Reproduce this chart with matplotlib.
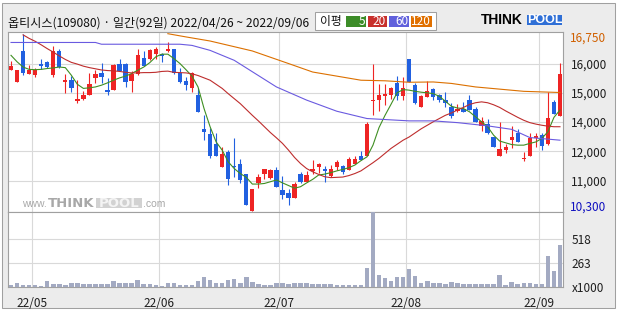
import numpy as np
import matplotlib.pyplot as plt
from matplotlib.patches import Rectangle

plt.rcParams['font.family'] = ['Noto Sans CJK KR', 'DejaVu Sans']

W, H = 620, 310

# 일봉 데이터 (92 거래일, 2022/04/26 ~ 2022/09/06)
opens = [15790, 15370, 16420, 15630, 15610, 16000, 16060, 15600, 16430, 15370,
         15430, 14710, 14780, 14940, 15510, 15680, 15110, 15110, 15990, 15990,
         15410, 15630, 16200, 16160, 16340, 16340, 16420, 16490, 15680, 15400,
         15180, 14920, 13750, 13590, 13240, 12470, 12970, 12500, 12550, 12240,
         10970, 11900, 12220, 12080, 12360, 11670, 11570, 11410, 12240, 11960,
         12310, 12470, 12400, 12160, 12450, 12490, 12360, 12560, 12850, 12850,
         14710, 14750, 14890, 14920, 15320, 14890, 16150, 15280, 14520, 14860,
         15120, 14920, 14770, 14500, 14380, 14440, 14750, 14440, 13860, 13930,
         13490, 12850, 13060, 13380, 13640, 12720, 12850, 13450, 13570, 13240,
         14690, 14210]
highs = [16080, 15790, 17000, 15940, 15860, 16150, 16080, 16600, 16480, 15630,
         15570, 15430, 15060, 15680, 15790, 16030, 15520, 16000, 16170, 16020,
         15750, 16490, 16430, 16490, 16570, 16360, 16720, 16490, 15860, 15540,
         15710, 15180, 14230, 13780, 13630, 13130, 13060, 13470, 12720, 12240,
         11710, 12240, 12380, 12380, 12450, 12170, 11700, 11950, 12300, 12310,
         12700, 12610, 12490, 12530, 12700, 12530, 12790, 12830, 13020, 14010,
         15980, 15290, 15290, 15200, 15580, 15540, 16150, 15320, 14920, 15400,
         15180, 14970, 15030, 14660, 14630, 14690, 14920, 14500, 14180, 14090,
         13490, 14010, 13240, 13860, 13760, 12960, 13630, 13640, 13610, 15010,
         14750, 16030]
lows = [15780, 15370, 15600, 15630, 15540, 15830, 15850, 15540, 15860, 15000,
        15030, 14660, 14750, 14940, 15320, 15340, 14940, 15090, 15740, 15200,
        15030, 15600, 15910, 16110, 16170, 16060, 16400, 15630, 15350, 15090,
        15030, 14350, 13380, 12760, 12850, 12450, 11840, 12130, 11920, 11160,
        10970, 11730, 12050, 12040, 11790, 11360, 11160, 11410, 11920, 11940,
        12220, 12270, 11960, 12130, 12360, 12210, 12360, 12550, 12700, 12850,
        14230, 14380, 14580, 14800, 14750, 14750, 15370, 14630, 14500, 14860,
        14750, 14690, 14500, 14140, 14350, 14340, 14410, 14010, 13700, 13590,
        13130, 12850, 12950, 13100, 13320, 12680, 12850, 13130, 13060, 13210,
        14260, 14210]
closes = [15910, 15790, 15660, 15790, 15790, 15920, 15880, 16430, 15880, 15450,
          15180, 14780, 14920, 15290, 15630, 15540, 15030, 15940, 15760, 15370,
          15630, 16280, 15920, 16450, 16490, 16260, 16490, 15660, 15370, 15260,
          15690, 14350, 13670, 12830, 12850, 12900, 12050, 12450, 12020, 11160,
          11710, 12130, 12380, 12360, 11790, 11510, 11410, 11880, 11950, 12190,
          12380, 12580, 12330, 12380, 12630, 12300, 12730, 12730, 12700, 13930,
          14750, 14920, 14950, 15150, 14890, 15180, 15370, 14660, 14890, 15050,
          14860, 14750, 14660, 14200, 14440, 14350, 14410, 14010, 14030, 13610,
          13130, 13070, 13150, 13490, 13320, 12780, 13470, 13520, 13180, 14150,
          14260, 15630]
volumes = [25, 40, 25, 22, 22, 14, 65, 36, 32, 25,
           43, 43, 36, 36, 36, 36, 36, 65, 43, 47,
           47, 76, 32, 29, 22, 14, 43, 43, 25, 25,
           25, 65, 108, 79, 43, 43, 72, 87, 43, 108,
           54, 29, 25, 25, 40, 40, 29, 43, 43, 43,
           29, 29, 32, 32, 25, 25, 25, 25, 25, 209,
           900, 130, 94, 69, 112, 112, 199, 119, 47, 65,
           47, 47, 36, 54, 43, 29, 36, 36, 36, 36,
           36, 130, 22, 58, 36, 47, 47, 36, 36, 339,
           173, 455]

# 이동평균선
ma5 = [16280, 16060, 15880, 15800, 15790, 15800, 15830, 15850, 15880, 15860,
       15600, 15290, 15150, 15170, 15200, 15260, 15340, 15430, 15510, 15570,
       15660, 15770, 15880, 16030, 16230, 16320, 16320, 16170, 16000, 15790,
       15570, 15200, 14460, 13840, 13320, 13040, 12640, 12410, 12240, 12110,
       11880, 11880, 11900, 11960, 12020, 11920, 11830, 11740, 11790, 11920,
       12040, 12190, 12220, 12270, 12330, 12380, 12440, 12530, 12680, 12810,
       13210, 13810, 14230, 14610, 15000, 15110, 15090, 15050, 15020, 15000,
       14970, 14880, 14710, 14540, 14480, 14460, 14350, 14180, 14010, 13840,
       13550, 13350, 13290, 13230, 13210, 13210, 13270, 13320, 13440, 13670,
       14160, 14410]
ma20_start = 2
ma20 = [16980, 16860, 16760, 16640, 16510, 16390, 16260, 16140, 16040, 15980,
        15910, 15860, 15820, 15780, 15760, 15750, 15730, 15700, 15680, 15680,
        15690, 15690, 15700, 15730, 15740, 15700, 15690, 15680, 15650, 15590,
        15510, 15430, 15290, 15150, 14970, 14800, 14630, 14430, 14230, 14040,
        13840, 13640, 13460, 13270, 13040, 12790, 12580, 12410, 12300, 12210,
        12130, 12100, 12110, 12120, 12170, 12240, 12330, 12470, 12610, 12760,
        12930, 13100, 13240, 13380, 13490, 13630, 13770, 13890, 14010, 14120,
        14230, 14310, 14410, 14500, 14600, 14660, 14690, 14660, 14590, 14500,
        14380, 14270, 14160, 14060, 13980, 13930, 13890, 13860, 13840, 13840]
ma60_x = [0, 14, 15, 28, 30, 33, 37, 44, 49, 54, 59, 66, 70, 74, 79, 83, 86, 91]
ma60 = [16720, 16720, 16660, 16660, 16620, 16450, 16110, 15200, 14750, 14370,
        14120, 14040, 14040, 13980, 13870, 13750, 13470, 13380]
ma120_x = [26, 29, 33, 40, 46, 50, 58, 62, 66, 70, 73, 77, 85, 91]
ma120 = [17020, 16910, 16770, 16430, 16000, 15710, 15430, 15410, 15360, 15370,
         15320, 15200, 15050, 15010]

month_starts = [4, 25, 45, 66, 88]
month_labels = ['22/05', '22/06', '22/07', '22/08', '22/09']
price_grid = [16000, 15000, 14000, 13000, 12000]
price_labels = ['16,000', '15,000', '14,000', '12,000', '11,000']
price_hi_label = '16,750'
price_lo_label = '10,300'
vol_grid = [0, 263, 518]
vol_labels = ['x1000', '263', '518']

title = '옵티시스(109080) · 일간(92일) 2022/04/26 ~ 2022/09/06'

RED = '#ee2424'
BLUE = '#2160e0'
VOL = '#a3aac2'
GRID = '#d9d9d9'
EDGE = '#a0a0a0'
TXT = '#1e1e1e'


def fx(px):
    return px / W


def fy(py):
    return 1 - py / H


fig = plt.figure(figsize=(W / 100, H / 100), dpi=100)
fig.patch.set_facecolor('white')
fig.add_artist(Rectangle((fx(2), fy(308)), 613 / W, 305 / H, transform=fig.transFigure,
                         fc='#ececec', ec=EDGE, lw=0.75, zorder=0))

ax = fig.add_axes([fx(8), fy(212), 555 / W, 180 / H])
axv = fig.add_axes([fx(8), fy(287), 555 / W, 75 / H])

x = np.arange(len(closes))
o = np.array(opens)
c = np.array(closes)
cols = np.where(c >= o, RED, BLUE)

# 캔들
ax.vlines(x, lows, highs, colors=cols, lw=0.8, zorder=3)
ax.bar(x, np.maximum(np.abs(c - o), 35), 0.72, np.minimum(o, c), color=cols, lw=0, zorder=3)

# 이평선
ax.plot(x, ma5, color='#3f8f22', lw=0.8, zorder=4)
ax.plot(np.arange(ma20_start, ma20_start + len(ma20)), ma20, color='#be2d2d', lw=0.8, zorder=4)
ax.plot(ma60_x, ma60, color='#6a5ae0', lw=0.8, zorder=4)
ax.plot(ma120_x, ma120, color='#dc7000', lw=0.8, zorder=4)

ax.set_xlim(-0.5, len(closes) - 0.5)
ax.set_ylim(10925, 17078)
ax.set_xticks([m - 0.5 for m in month_starts])
ax.set_yticks(price_grid)
ax.set_yticklabels(price_labels)
ax.yaxis.tick_right()
ax.tick_params(axis='y', length=0, pad=6, labelsize=8.5, labelcolor=TXT)
ax.tick_params(axis='x', length=0, labelbottom=False)
ax.grid(True, color=GRID, lw=0.8, zorder=0)
ax.text(1.013, 0.965, price_hi_label, transform=ax.transAxes, color='#d06000',
        fontsize=8.5, va='center', ha='left')
ax.text(1.013, 0.028, price_lo_label, transform=ax.transAxes, color='#1010c0',
        fontsize=8.5, va='center', ha='left')

# 거래량
axv.bar(x, volumes, 0.75, color=VOL, lw=0, zorder=3)
axv.set_xlim(-0.5, len(closes) - 0.5)
axv.set_ylim(0, 812)
axv.set_xticks([m - 0.5 for m in month_starts])
axv.set_xticklabels(month_labels)
axv.set_yticks(vol_grid)
axv.set_yticklabels(vol_labels)
axv.yaxis.tick_right()
axv.tick_params(axis='y', length=0, pad=6, labelsize=8.5, labelcolor=TXT)
axv.tick_params(axis='x', length=0, pad=7, labelsize=8.5, labelcolor=TXT)
axv.grid(True, color=GRID, lw=0.8, zorder=0)

for a in (ax, axv):
    a.set_facecolor('white')
    for s in a.spines.values():
        s.set_color(EDGE)
        s.set_linewidth(0.8)

# 제목
fig.text(fx(8), fy(23), title, fontsize=8.7, va='center', ha='left', color='#111111')

# 범례 (이평)
fig.add_artist(Rectangle((fx(315), fy(29.5)), 121 / W, 17.5 / H, transform=fig.transFigure,
                         fc='white', ec=EDGE, lw=0.75))
fig.text(fx(320), fy(21), '이평', fontsize=8.5, va='center', ha='left', color='#111111')
legend_items = [(346, 366, '#3c8c28', '5'), (368, 387, '#c8302c', '20'),
                (389, 409, '#6060dc', '60'), (411, 432, '#e07000', '120')]
for x0, x1, col, lab in legend_items:
    fig.add_artist(Rectangle((fx(x0), fy(26.7)), (x1 - x0) / W, 11 / H,
                             transform=fig.transFigure, fc=col, ec='none'))
    fig.text(fx(x1 - 1), fy(21.2), lab, fontsize=8.5, va='center', ha='right', color='white')

# 로고
fig.text(fx(481), fy(20), 'THINK', fontsize=10, fontweight='bold', family='Liberation Sans',
         va='center', ha='left', color='black')
fig.add_artist(Rectangle((fx(527), fy(24.5)), 35 / W, 9.5 / H, transform=fig.transFigure,
                         fc='#2f6fd6', ec='none'))
fig.text(fx(544.5), fy(19.8), 'POOL', fontsize=9, fontweight='bold', family='Liberation Sans',
         va='center', ha='center', color='white')

# 워터마크
fig.text(fx(22), fy(207), 'www.', fontsize=7.5, family='Liberation Sans', va='baseline',
         ha='left', color='#a8a8a8')
fig.text(fx(48), fy(207), 'THINK', fontsize=9.5, fontweight='bold', family='DejaVu Sans',
         va='baseline', ha='left', color='#a8a8a8')
fig.add_artist(Rectangle((fx(96), fy(208)), 46 / W, 10.5 / H, transform=fig.transFigure,
                         fc='#d2d2d2', ec='none'))
fig.text(fx(119), fy(207), 'POOL', fontsize=9.5, fontweight='bold', family='DejaVu Sans',
         va='baseline', ha='center', color='#f4f4f4')
fig.text(fx(143), fy(207), '.com', fontsize=7.5, family='Liberation Sans', va='baseline',
         ha='left', color='#a8a8a8')

fig.savefig('out.png', dpi=100)
